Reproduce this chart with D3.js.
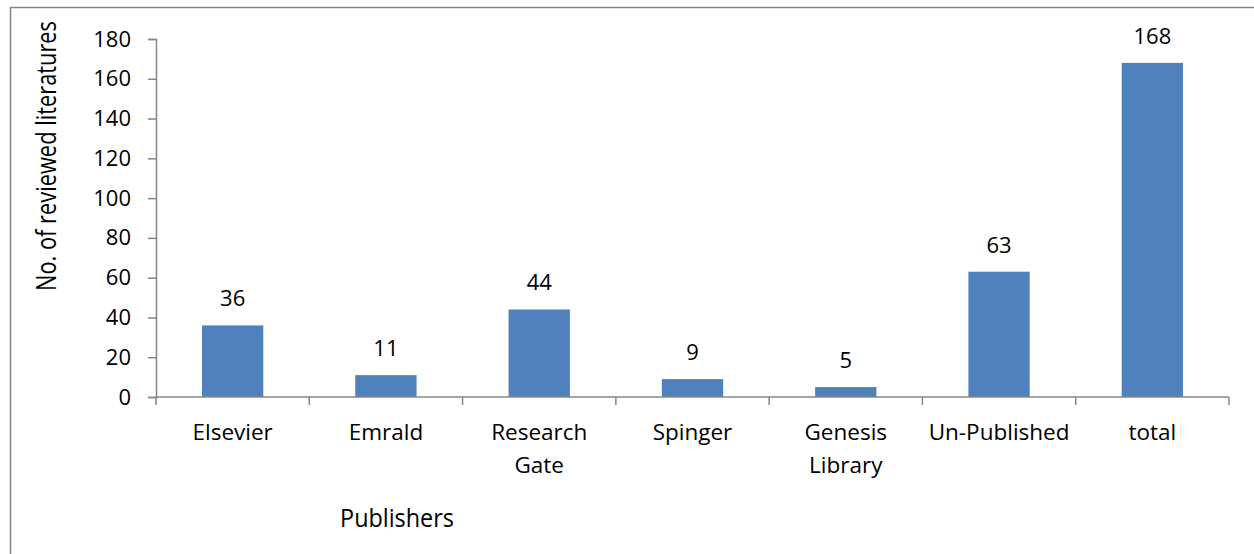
<!DOCTYPE html>
<html>
<head>
<meta charset="utf-8">
<script src="https://cdn.jsdelivr.net/npm/d3@7"></script>
<style>
  body { margin: 0; background: #fff; }
  text { font-family: "Open Sans", sans-serif; fill: #000; }
</style>
</head>
<body>
<div id="chart"></div>
<script>
// Data
const publishers = ["Elsevier", "Emrald", "Research Gate", "Spinger", "Genesis Library", "Un-Published", "total"];
const literatureCounts = [36, 11, 44, 9, 5, 63, 168];
const yTicks = [0, 20, 40, 60, 80, 100, 120, 140, 160, 180];

const width = 1254;
const height = 554;
const margin = { top: 39, right: 25, bottom: 157, left: 156 };

const svg = d3.select("#chart")
  .append("svg")
  .attr("width", width)
  .attr("height", height);

// outer frame (right/bottom edges fall outside the picture)
svg.append("rect")
  .attr("x", 10.5)
  .attr("y", 7.5)
  .attr("width", width)
  .attr("height", height)
  .attr("fill", "none")
  .attr("stroke", "#868686")
  .attr("stroke-width", 1.5);

const innerW = width - margin.left - margin.right;
const innerH = height - margin.top - margin.bottom;

const g = svg.append("g")
  .attr("transform", `translate(${margin.left}, ${margin.top})`);

const x = d3.scaleBand()
  .domain(publishers)
  .range([0, innerW])
  .paddingInner(0.6)
  .paddingOuter(0.3);

const y = d3.scaleLinear()
  .domain([0, 180])
  .range([innerH, 0]);

// Bars
g.selectAll(".bar")
  .data(publishers)
  .enter()
  .append("rect")
  .attr("class", "bar")
  .attr("x", (d) => x(d))
  .attr("y", (d, i) => y(literatureCounts[i]))
  .attr("width", x.bandwidth())
  .attr("height", (d, i) => innerH - y(literatureCounts[i]))
  .attr("fill", "#4F81BD");

// Value labels
g.selectAll(".value-label")
  .data(publishers)
  .enter()
  .append("text")
  .attr("class", "value-label")
  .attr("x", (d) => x(d) + x.bandwidth() / 2)
  .attr("y", (d, i) => y(literatureCounts[i]) - 19)
  .attr("text-anchor", "middle")
  .style("font-size", "22px")
  .text((d, i) => literatureCounts[i]);

// Y axis
const yAxis = g.append("g")
  .call(d3.axisLeft(y).tickValues(yTicks).tickSize(8).tickPadding(17));
yAxis.select(".domain").attr("stroke", "#868686").attr("stroke-width", 1.5);
yAxis.selectAll(".tick line").attr("stroke", "#868686").attr("stroke-width", 1.5);
yAxis.selectAll(".tick text")
  .style("font-family", "'Open Sans', sans-serif")
  .style("font-size", "22px")
  .attr("fill", "#000");

// X axis: baseline plus tick marks at category boundaries
const step = x.step();
const boundaries = d3.range(publishers.length + 1).map((i) => i * step);
g.append("line")
  .attr("x1", 0)
  .attr("x2", innerW)
  .attr("y1", innerH)
  .attr("y2", innerH)
  .attr("stroke", "#868686")
  .attr("stroke-width", 1.5);
g.selectAll(".x-tick")
  .data(boundaries)
  .enter()
  .append("line")
  .attr("class", "x-tick")
  .attr("x1", (d) => d)
  .attr("x2", (d) => d)
  .attr("y1", innerH)
  .attr("y2", innerH + 8)
  .attr("stroke", "#868686")
  .attr("stroke-width", 1.5);

// Category labels, wrapped on spaces
const catLabels = g.selectAll(".cat-label")
  .data(publishers)
  .enter()
  .append("text")
  .attr("class", "cat-label")
  .attr("text-anchor", "middle")
  .attr("transform", (d) => `translate(${x(d) + x.bandwidth() / 2}, ${innerH + 43})`)
  .style("font-size", "22.5px");
catLabels.each(function (d) {
  const words = d.split(" ");
  words.forEach((w, i) => {
    d3.select(this).append("tspan")
      .attr("x", 0)
      .attr("dy", i === 0 ? 0 : 33)
      .text(w);
  });
});

// Axis titles (squeezed a little to mimic the narrower original face)
svg.append("text")
  .attr("text-anchor", "middle")
  .attr("transform", `translate(56, 156) rotate(-90) scale(0.78, 1)`)
  .style("font-size", "28px")
  .text("No. of reviewed literatures");

svg.append("text")
  .attr("text-anchor", "middle")
  .attr("transform", `translate(397, 527) scale(0.9, 1)`)
  .style("font-size", "26px")
  .text("Publishers");
</script>
</body>
</html>
